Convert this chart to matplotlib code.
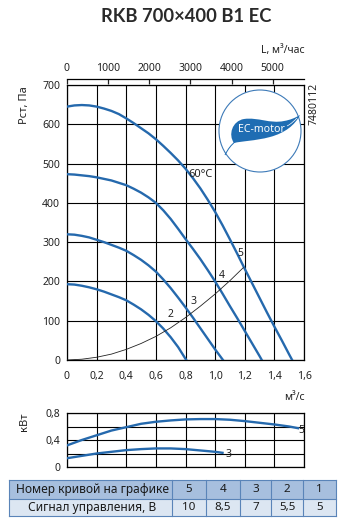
import matplotlib
matplotlib.use("Agg")
import matplotlib.pyplot as plt
from matplotlib.patches import Rectangle, Circle, PathPatch
from matplotlib.path import Path

# ---------------- data ----------------
q5 = [0, 0.05, 0.1, 0.15, 0.2, 0.25, 0.3, 0.35, 0.4, 0.45, 0.5, 0.55, 0.6, 0.65, 0.7, 0.75,
      0.8, 0.85, 0.9, 0.95, 1.0, 1.05, 1.1, 1.15, 1.2, 1.25, 1.3, 1.35, 1.4, 1.45, 1.5, 1.52]
p5 = [645, 648, 649, 648, 645, 640, 634, 626, 615, 603, 590, 577, 562, 545, 527, 508,
      487, 463, 437, 408, 377, 343, 307, 270, 232, 195, 158, 121, 85, 50, 14, 0]
q4 = [0, 0.05, 0.1, 0.15, 0.2, 0.25, 0.3, 0.35, 0.4, 0.45, 0.5, 0.55, 0.6, 0.65, 0.7, 0.75,
      0.8, 0.85, 0.9, 0.95, 1.0, 1.05, 1.1, 1.15, 1.2, 1.25, 1.3, 1.315]
p4 = [473, 472, 470, 468, 465, 461, 457, 451, 445, 436, 426, 414, 400, 381, 359, 334,
      308, 283, 257, 229, 200, 169, 137, 106, 74, 42, 10, 0]
q3 = [0, 0.05, 0.1, 0.15, 0.2, 0.25, 0.3, 0.35, 0.4, 0.45, 0.5, 0.55, 0.6, 0.65, 0.7, 0.75,
      0.8, 0.85, 0.9, 0.95, 1.0, 1.053]
p3 = [320, 319, 316, 312, 306, 300, 293, 286, 278, 267, 255, 241, 225, 205, 183, 159,
      134, 108, 81, 54, 27, 0]
q2 = [0, 0.05, 0.1, 0.15, 0.2, 0.25, 0.3, 0.35, 0.4, 0.45, 0.5, 0.55, 0.6, 0.65, 0.7, 0.75,
      0.8, 0.805]
p2 = [193, 192, 189, 185, 180, 174, 167, 160, 152, 141, 129, 115, 99, 80, 58, 33, 3, 0]
q_sys = [0, 0.1, 0.2, 0.3, 0.4, 0.5, 0.6, 0.7, 0.8, 0.9, 1.0, 1.1, 1.19]
p_sys = [0, 2, 7, 15, 27, 42, 60, 82, 108, 137, 168, 202, 235]

qn5 = [0, 0.1, 0.2, 0.3, 0.4, 0.5, 0.6, 0.7, 0.8, 0.9, 1.0, 1.1, 1.2, 1.3, 1.4, 1.5, 1.56]
n5 = [0.32, 0.40, 0.47, 0.54, 0.59, 0.64, 0.67, 0.69, 0.705, 0.71, 0.71, 0.70, 0.68,
      0.655, 0.63, 0.60, 0.575]
qn3 = [0, 0.1, 0.2, 0.3, 0.4, 0.5, 0.6, 0.7, 0.8, 0.9, 1.0, 1.05]
n3 = [0.13, 0.165, 0.20, 0.225, 0.25, 0.265, 0.275, 0.275, 0.265, 0.245, 0.225, 0.21]

curve_numbers = ['5', '4', '3', '2', '1']
signals = ['10', '8,5', '7', '5,5', '5']
x_ticks = [0, 0.2, 0.4, 0.6, 0.8, 1.0, 1.2, 1.4, 1.6]
x_ticklabels = ['0', '0,2', '0,4', '0,6', '0,8', '1,0', '1,2', '1,4', '1,6']
p_ticks = [0, 100, 200, 300, 400, 500, 600, 700]
L_ticks = [0, 1000, 2000, 3000, 4000, 5000]
n_ticks = [0, 0.2, 0.4, 0.6, 0.8]
n_ticklabels = ['0', '', '0,4', '', '0,8']

# ---------------- style ----------------
W, H = 345, 526
BLUE = '#2569ad'
TXT = '#222222'
plt.rcParams['font.family'] = ['Noto Sans', 'DejaVu Sans']
fig = plt.figure(figsize=(W / 100, H / 100), dpi=100)


def fx(px):
    return px / W


def fy(py):
    return 1 - py / H


# main axes
ax = fig.add_axes([fx(67), fy(360), fx(304) - fx(67), fy(85) - fy(360)])
for q, p in [(q5, p5), (q4, p4), (q3, p3), (q2, p2)]:
    ax.plot(q, p, color=BLUE, lw=1.7, solid_joinstyle='round', zorder=3)
ax.plot(q_sys, p_sys, color=TXT, lw=0.6, zorder=3)
ax.set_xlim(0, 1.6)
ax.set_ylim(0, 700)
ax.set_xticks(x_ticks)
ax.set_xticklabels(x_ticklabels)
ax.set_yticks(p_ticks)
ax.tick_params(axis='both', length=0, labelsize=7.5, colors=TXT)
ax.tick_params(axis='x', pad=8)
ax.tick_params(axis='y', pad=5)
ax.grid(True, color='black', lw=0.8)
for s in ax.spines.values():
    s.set_linewidth(0.9)
ax.text(0.9, 471, '60°C', fontsize=8, ha='center', va='center', color=TXT)
for lab, (x, y) in zip(['2', '3', '4', '5'],
                       [(0.7, 115), (0.855, 150), (1.045, 215), (1.17, 272)]):
    ax.text(x, y, lab, fontsize=7.5, ha='center', va='center', color=TXT, zorder=4)

sec = ax.secondary_xaxis('top', functions=(lambda x: x * 3600, lambda x: x / 3600))
sec.set_xticks(L_ticks)
sec.spines['top'].set_position(('outward', 4))
sec.spines['top'].set_linewidth(0.9)
sec.tick_params(direction='in', length=3.5, width=0.9, labelsize=7.5, pad=4, colors=TXT)

# power axes
axn = fig.add_axes([fx(67), fy(467), fx(304) - fx(67), fy(413) - fy(467)])
axn.plot(qn5, n5, color=BLUE, lw=1.7, solid_joinstyle='round', zorder=3)
axn.plot(qn3, n3, color=BLUE, lw=1.7, solid_joinstyle='round', zorder=3)
axn.set_xlim(0, 1.6)
axn.set_ylim(0, 0.8)
axn.set_xticks(x_ticks)
axn.set_xticklabels([])
axn.set_yticks(n_ticks)
axn.set_yticklabels(n_ticklabels)
axn.tick_params(axis='both', length=0, labelsize=7.5, colors=TXT)
axn.tick_params(axis='y', pad=5)
axn.grid(True, color='black', lw=0.8)
for s in axn.spines.values():
    s.set_linewidth(0.9)
axn.text(1.585, 0.54, '5', fontsize=7.5, ha='center', va='center', color=TXT, zorder=4)
axn.text(1.09, 0.18, '3', fontsize=7.5, ha='center', va='center', color=TXT, zorder=4)

# overlay in pixel coordinates
ov = fig.add_axes([0, 0, 1, 1], zorder=10)
ov.set_xlim(0, W)
ov.set_ylim(H, 0)
ov.axis('off')
ov.patch.set_alpha(0)

ov.text(186, 17, 'RKB 700×400 B1 EC', fontsize=13.2, fontweight='bold', family='Lato',
        ha='center', va='center', color='#2a2a2a')
ov.text(305, 50, 'L, м³/час', fontsize=7.5, ha='right', va='center', color=TXT)
ov.text(305, 398, 'м³/с', fontsize=7.5, ha='right', va='center', color=TXT)
ov.text(25, 105, 'Pст, Па', fontsize=8, rotation=90, ha='center', va='center', color=TXT)
ov.text(25, 422, 'кВт', fontsize=8, rotation=90, ha='center', va='center', color=TXT)
ov.text(314, 104, '7480112', fontsize=7.5, rotation=90, ha='center', va='center', color=TXT)

# EC-motor logo
LOGO = '#1f6db3'
ov.add_patch(Circle((260, 131), 41, facecolor='white', edgecolor='#3d7ab8', lw=0.8))
verts = [(234, 143),
         (228, 135), (232, 121), (244, 119),
         (258, 117), (270, 124), (284, 121),
         (290, 120), (295, 118), (300, 115),
         (295, 125), (285, 133), (270, 137),
         (255, 141), (242, 141), (234, 143),
         (234, 143)]
codes = [Path.MOVETO] + [Path.CURVE4] * 15 + [Path.CLOSEPOLY]
ov.add_patch(PathPatch(Path(verts, codes), facecolor=LOGO, edgecolor='none'))
stem = Path([(236, 141), (231, 145), (228, 149), (225, 155)],
            [Path.MOVETO, Path.CURVE4, Path.CURVE4, Path.CURVE4])
ov.add_patch(PathPatch(stem, facecolor='none', edgecolor=LOGO, lw=0.7))
streak = Path([(287, 126), (291, 124), (294, 121), (297, 118)],
              [Path.MOVETO, Path.CURVE4, Path.CURVE4, Path.CURVE4])
ov.add_patch(PathPatch(streak, facecolor='none', edgecolor='white', lw=0.5))
ov.text(261, 130, 'EC-motor', fontsize=7.6, fontweight='bold', color='white',
        ha='center', va='center')

# table
col_edges = [9, 172, 206, 240, 271, 303, 336]
row_edges = [480, 499, 516]
row_bg = ['#a7bfde', '#dce6f2']
border = '#5a84b8'
headers = ['Номер кривой на графике', 'Сигнал управления, В']
rows = [curve_numbers, signals]
for r in range(2):
    y0, y1 = row_edges[r], row_edges[r + 1]
    ov.add_patch(Rectangle((col_edges[0], y0), col_edges[-1] - col_edges[0], y1 - y0,
                           facecolor=row_bg[r], edgecolor='none'))
    yc = (y0 + y1) / 2
    ov.text((col_edges[0] + col_edges[1]) / 2 + 2, yc, headers[r], fontsize=8.6,
            fontweight='bold', ha='center', va='center', color='#1a1a1a')
    for c, val in enumerate(rows[r]):
        ov.text((col_edges[c + 1] + col_edges[c + 2]) / 2, yc, val, fontsize=8.4,
                fontweight='bold' if r == 0 else 'normal', ha='center', va='center',
                color='#1a1a1a')
for y in row_edges:
    ov.plot([col_edges[0], col_edges[-1]], [y, y], color=border, lw=0.8)
for x in col_edges:
    ov.plot([x, x], [row_edges[0], row_edges[-1]], color=border, lw=0.8)

fig.savefig('out.png', dpi=100)
